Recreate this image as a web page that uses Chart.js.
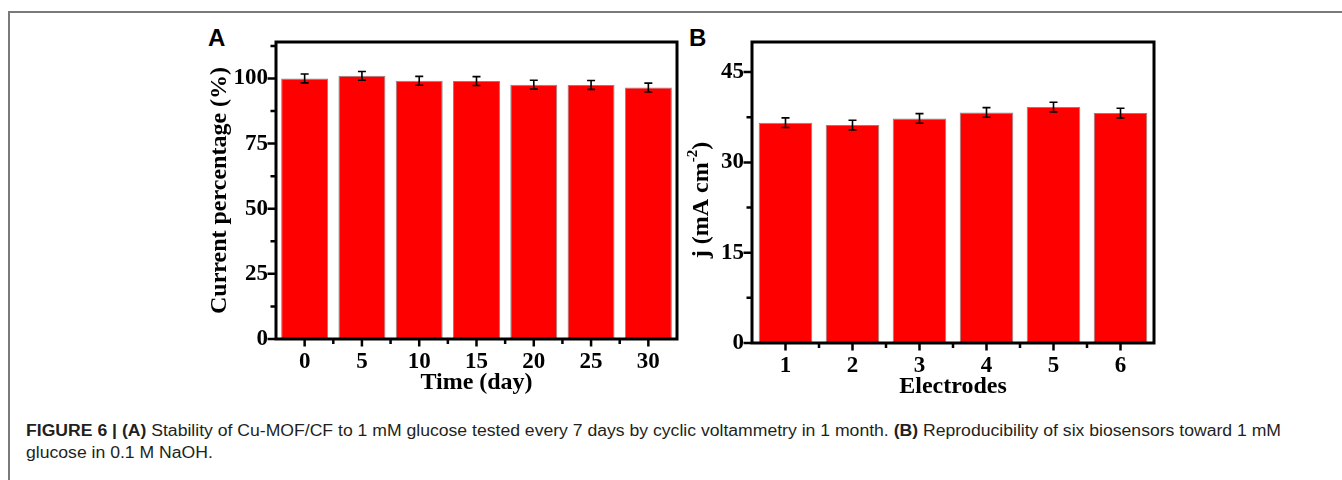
<!DOCTYPE html>
<html>
<head>
<meta charset="utf-8">
<script src="https://cdn.jsdelivr.net/npm/chart.js@4.4.1/dist/chart.umd.min.js"></script>
<style>
body { margin:0; width:1342px; height:480px; background:#fff; position:relative; overflow:hidden; }
#frame { position:absolute; left:8px; top:11px; right:0; bottom:0; border-top:2px solid #7a7a7a; border-left:2px solid #7a7a7a; }
.panel { position:absolute; top:26px; font-family:"Liberation Sans", Arial, sans-serif; font-weight:bold; font-size:24px; line-height:1; color:#000; }
.box { position:absolute; top:0; width:500px; height:420px; }
#caption { position:absolute; left:26px; top:420px; font-family:"Liberation Sans", Arial, sans-serif; font-size:16px; line-height:22px; color:#231f20; white-space:nowrap; }
#caption span { display:inline-block; transform-origin:0 0; }
</style>
</head>
<body>
<div id="frame"></div>
<div class="panel" style="left:208px;">A</div>
<div class="panel" style="left:689px;">B</div>
<div class="box" style="left:190px;"><canvas id="chartA"></canvas></div>
<div class="box" style="left:670px;"><canvas id="chartB"></canvas></div>
<div id="caption">
  <div><span id="line1"><b>FIGURE 6 | (A)</b> Stability of Cu-MOF/CF to 1 mM glucose tested every 7 days by cyclic voltammetry in 1 month. <b>(B)</b> Reproducibility of six biosensors toward 1 mM</span></div>
  <div><span id="line2">glucose in 0.1 M NaOH.</span></div>
</div>
<script>
// panel A: stability over one month
var timeLabels = ['0', '5', '10', '15', '20', '25', '30'];
var currentPercent = [100, 101, 99.1, 99, 97.6, 97.5, 96.5];
var currentError = [1.7, 1.7, 1.7, 1.7, 1.7, 1.7, 1.7];
var percentTicks = [0, 25, 50, 75, 100];

// panel B: six electrodes
var electrodeLabels = ['1', '2', '3', '4', '5', '6'];
var currentDensity = [36.6, 36.2, 37.3, 38.3, 39.2, 38.2];
var densityError = [0.8, 0.8, 0.8, 0.8, 0.8, 0.8];
var densityTicks = [0, 15, 30, 45];

var serif = "'Liberation Serif', 'Times New Roman', serif";

// origin style box, outward ticks (major + minor) and error bars
var originPlugin = {
    id: 'origin',
    afterDatasetsDraw: function(chart, args, opts){
        var ctx = chart.ctx;
        var area = chart.chartArea;
        var xs = chart.scales.x;
        var ys = chart.scales.y;
        var values = chart.data.datasets[0].data;
        var bars = chart.getDatasetMeta(0).data;
        ctx.save();
        ctx.strokeStyle = '#000';

        ctx.lineWidth = 1.6;
        bars.forEach(function(bar, i){
            var hi = ys.getPixelForValue(values[i] + opts.errors[i]);
            var lo = ys.getPixelForValue(values[i] - opts.errors[i]);
            ctx.beginPath();
            ctx.moveTo(bar.x, hi); ctx.lineTo(bar.x, lo);
            ctx.moveTo(bar.x - 4, hi); ctx.lineTo(bar.x + 4, hi);
            ctx.moveTo(bar.x - 4, lo); ctx.lineTo(bar.x + 4, lo);
            ctx.stroke();
        });

        ctx.lineWidth = 2.5;
        ctx.beginPath();
        for (var v = ys.min; v <= ys.max; v += opts.minorStep){
            var py = ys.getPixelForValue(v);
            var len = opts.majorTicks.indexOf(v) >= 0 ? 7 : 4;
            ctx.moveTo(area.left - 1, py);
            ctx.lineTo(area.left - 1.5 - len, py);
        }
        for (var i = 0; i < values.length; i++){
            var px = xs.getPixelForValue(i);
            ctx.moveTo(px, area.bottom + 1);
            ctx.lineTo(px, area.bottom + 1.5 + 6);
            if (i < values.length - 1){
                var mid = (px + xs.getPixelForValue(i + 1)) / 2;
                ctx.moveTo(mid, area.bottom + 1);
                ctx.lineTo(mid, area.bottom + 1.5 + 3.5);
            }
        }
        ctx.stroke();

        ctx.lineWidth = 3;
        ctx.strokeRect(area.left, area.top, area.right - area.left, area.bottom - area.top);

        if (opts.superTitle){
            var t = opts.superTitle;
            ctx.translate(t.x, t.y);
            ctx.rotate(-Math.PI / 2);
            ctx.fillStyle = '#000';
            ctx.textBaseline = 'middle';
            var big = 'bold 24px ' + serif;
            var small = 'bold 15px ' + serif;
            ctx.font = big;
            var w1 = ctx.measureText(t.main).width;
            var w3 = ctx.measureText(t.end).width;
            ctx.font = small;
            var w2 = ctx.measureText(t.sup).width;
            var start = -(w1 + w2 + w3) / 2;
            ctx.font = big;
            ctx.fillText(t.main, start, 0);
            ctx.font = small;
            ctx.fillText(t.sup, start + w1, -9);
            ctx.font = big;
            ctx.fillText(t.end, start + w1 + w2, 0);
        }
        ctx.restore();
    }
};

var makeChart = function(id, labels, values, cfg){
    var tickFont = { family: serif, size: 23, weight: 'bold' };
    var titleFont = { family: serif, size: 24, weight: 'bold' };
    return new Chart(document.getElementById(id), {
        type: 'bar',
        data: {
            labels: labels,
            datasets: [{
                data: values,
                backgroundColor: '#ff0000',
                borderColor: '#7d8a8a',
                borderWidth: 1,
                barPercentage: cfg.barPercentage,
                categoryPercentage: 1
            }]
        },
        options: {
            responsive: true,
            maintainAspectRatio: false,
            devicePixelRatio: 1,
            animation: false,
            layout: { padding: { top: 42, right: cfg.rightPad, left: 0, bottom: 0 } },
            plugins: {
                legend: { display: false },
                tooltip: { enabled: false },
                origin: {
                    errors: cfg.errors,
                    minorStep: cfg.minorStep,
                    majorTicks: cfg.ticks,
                    superTitle: cfg.superTitle
                }
            },
            scales: {
                x: {
                    offset: true,
                    grid: { display: false, drawTicks: false },
                    border: { display: false },
                    afterFit: function(s){ s.height = cfg.xHeight; },
                    ticks: { color: '#000', font: tickFont, padding: 9, maxRotation: 0 },
                    title: { display: true, text: cfg.xTitle, color: '#000', font: titleFont,
                             padding: { top: 0, bottom: cfg.xTitlePad } }
                },
                y: {
                    min: 0,
                    max: cfg.max,
                    grid: { display: false, drawTicks: false },
                    border: { display: false },
                    afterFit: function(s){ s.width = cfg.yWidth; },
                    afterBuildTicks: function(s){
                        s.ticks = cfg.ticks.map(function(v){ return { value: v }; });
                    },
                    ticks: { color: '#000', font: tickFont, padding: 8 },
                    title: { display: !!cfg.yTitle, text: cfg.yTitle, color: '#000', font: titleFont,
                             padding: { top: 15, bottom: 0 } }
                }
            }
        },
        plugins: [originPlugin]
    });
};

makeChart('chartA', timeLabels, currentPercent, {
    errors: currentError, ticks: percentTicks, minorStep: 12.5, max: 114,
    barPercentage: 0.82, rightPad: 13, yWidth: 86, xHeight: 81, xTitlePad: 23,
    xTitle: 'Time (day)', yTitle: 'Current percentage (%)'
});

makeChart('chartB', electrodeLabels, currentDensity, {
    errors: densityError, ticks: densityTicks, minorStep: 7.5, max: 50,
    barPercentage: 0.8, rightPad: 16, yWidth: 82, xHeight: 77, xTitlePad: 19,
    xTitle: 'Electrodes', yTitle: '',
    superTitle: { x: 32, y: 200, main: 'j (mA cm', sup: '-2', end: ')' }
});

// squeeze caption lines to the width of the printed line
var line1 = document.getElementById('line1');
var line2 = document.getElementById('line2');
var k = 1255 / line1.getBoundingClientRect().width;
line1.style.transform = 'scaleX(' + k + ')';
line2.style.transform = 'scaleX(' + k + ')';
</script>
</body>
</html>
